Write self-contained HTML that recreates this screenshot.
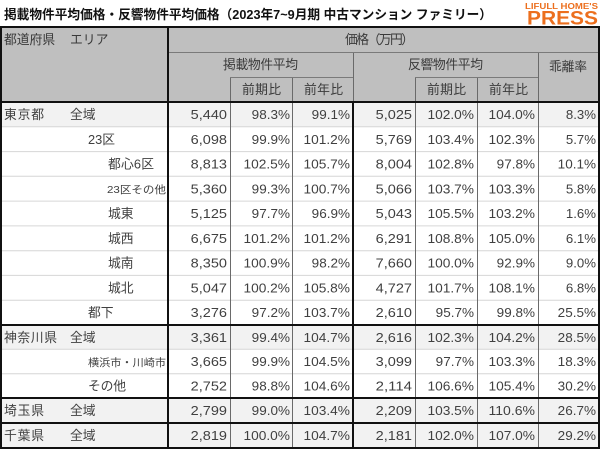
<!DOCTYPE html>
<html><head><meta charset="utf-8">
<style>
html,body{margin:0;padding:0;background:#fff;}
svg{display:block;}
text{font-family:"Liberation Sans","Noto Sans CJK JP",sans-serif;fill:#404040;}
.n{font-size:12.5px;text-anchor:end;}
.j{font-size:12.8px;}
.s{font-size:10.5px;}
.h{font-size:12.8px;fill:#3a3a3a;}
</style></head><body>
<svg width="600" height="450" viewBox="0 0 600 450" xmlns="http://www.w3.org/2000/svg">
<rect x="0" y="0" width="600" height="450" fill="#fff"/>
<!-- title -->
<text x="4" y="19" style="font-size:12.8px;font-weight:bold;fill:#111" textLength="488" lengthAdjust="spacingAndGlyphs">掲載物件平均価格・反響物件平均価格（2023年7~9月期 中古マンション ファミリー）</text>
<!-- logo -->
<text x="525" y="9" style="font-size:8px;font-weight:bold;fill:#ec6f1e" textLength="73" lengthAdjust="spacingAndGlyphs">LIFULL HOME'S</text>
<text x="527" y="24.5" style="font-size:19.5px;font-weight:bold;fill:#ec6f1e" textLength="71" lengthAdjust="spacingAndGlyphs">PRESS</text>

<!-- backgrounds -->
<rect x="1" y="27" width="598" height="75" fill="#bfbfbf"/>
<rect x="1" y="102" width="598" height="24.8" fill="#f2f2f2"/>
<rect x="1" y="325" width="598" height="24.3" fill="#f2f2f2"/>
<rect x="1" y="398" width="598" height="50" fill="#f2f2f2"/>

<!-- light row grid -->
<g stroke="#d6d6d6" stroke-width="1">
<line x1="1" x2="599" y1="126.8" y2="126.8"/>
<line x1="1" x2="599" y1="151.6" y2="151.6"/>
<line x1="1" x2="599" y1="176.3" y2="176.3"/>
<line x1="1" x2="599" y1="201.1" y2="201.1"/>
<line x1="1" x2="599" y1="225.9" y2="225.9"/>
<line x1="1" x2="599" y1="250.7" y2="250.7"/>
<line x1="1" x2="599" y1="275.4" y2="275.4"/>
<line x1="1" x2="599" y1="300.2" y2="300.2"/>
<line x1="1" x2="599" y1="349.3" y2="349.3"/>
<line x1="1" x2="599" y1="373.7" y2="373.7"/>
</g>

<!-- data verticals -->
<g stroke="#6a6a6a" stroke-width="1">
<line x1="230.5" x2="230.5" y1="77" y2="448"/>
<line x1="292.5" x2="292.5" y1="77" y2="448"/>
<line x1="415.5" x2="415.5" y1="77" y2="448"/>
<line x1="477.5" x2="477.5" y1="77" y2="448"/>
<line x1="538.5" x2="538.5" y1="52" y2="448"/>
<line x1="353.5" x2="353.5" y1="52" y2="102"/>
</g>
<!-- header lines -->
<g stroke="#7a7a7a" stroke-width="1">
<line x1="168" x2="599" y1="52.5" y2="52.5"/>
<line x1="230" x2="353" y1="77.5" y2="77.5"/>
<line x1="415" x2="538" y1="77.5" y2="77.5"/>
</g>

<!-- thick lines -->
<g stroke="#111" stroke-width="2" fill="none">
<rect x="1" y="27" width="598" height="421"/>
<line x1="0" x2="600" y1="102" y2="102"/>
<line x1="0" x2="600" y1="325" y2="325"/>
<line x1="0" x2="600" y1="398" y2="398"/>
<line x1="0" x2="600" y1="423" y2="423"/>
<line x1="168" x2="168" y1="26" y2="449"/>
<line x1="353" x2="353" y1="101" y2="449"/>
</g>

<!-- header text -->
<text class="h" x="4" y="44">都道府県</text>
<text class="h" x="70" y="44">エリア</text>
<text class="h" x="345" y="44" textLength="69">価格（万円）</text>
<text class="h" x="223" y="69" textLength="75">掲載物件平均</text>
<text class="h" x="408" y="69" textLength="75">反響物件平均</text>
<text class="h" x="549" y="71" textLength="38">乖離率</text>
<text class="h" x="242" y="94" textLength="39">前期比</text>
<text class="h" x="304" y="94" textLength="39">前年比</text>
<text class="h" x="427" y="94" textLength="39">前期比</text>
<text class="h" x="489" y="94" textLength="39">前年比</text>

<!-- labels -->
<text class="j" x="4" y="119" textLength="40">東京都</text>
<text class="j" x="70" y="119">全域</text>
<text class="j" x="88" y="143.8">23区</text>
<text class="j" x="108" y="168.6" textLength="46">都心6区</text>
<text class="s" x="107" y="193" textLength="59" lengthAdjust="spacingAndGlyphs">23区その他</text>
<text class="j" x="108" y="218.1">城東</text>
<text class="j" x="108" y="242.9">城西</text>
<text class="j" x="108" y="267.7">城南</text>
<text class="j" x="108" y="292.4">城北</text>
<text class="j" x="88" y="317.2">都下</text>
<text class="j" x="4" y="341.8" textLength="53">神奈川県</text>
<text class="j" x="70" y="341.8">全域</text>
<text class="s" x="88" y="365.8" textLength="78" lengthAdjust="spacingAndGlyphs">横浜市・川崎市</text>
<text class="j" x="88" y="390.5" textLength="38">その他</text>
<text class="j" x="4" y="415.1" textLength="40">埼玉県</text>
<text class="j" x="70" y="415.1">全域</text>
<text class="j" x="4" y="440.1" textLength="40">千葉県</text>
<text class="j" x="70" y="440.1">全域</text>

<!-- numbers -->
<g transform="translate(0,119)">
<text class="n" x="227" textLength="36.3" lengthAdjust="spacingAndGlyphs">5,440</text>
<text class="n" x="290" textLength="38.3" lengthAdjust="spacingAndGlyphs">98.3%</text>
<text class="n" x="350" textLength="38.3" lengthAdjust="spacingAndGlyphs">99.1%</text>
<text class="n" x="412" textLength="36.3" lengthAdjust="spacingAndGlyphs">5,025</text>
<text class="n" x="474" textLength="46.5" lengthAdjust="spacingAndGlyphs">102.0%</text>
<text class="n" x="535" textLength="46.5" lengthAdjust="spacingAndGlyphs">104.0%</text>
<text class="n" x="596" textLength="30.1" lengthAdjust="spacingAndGlyphs">8.3%</text>
</g>
<g transform="translate(0,143.8)">
<text class="n" x="227" textLength="36.3" lengthAdjust="spacingAndGlyphs">6,098</text>
<text class="n" x="290" textLength="38.3" lengthAdjust="spacingAndGlyphs">99.9%</text>
<text class="n" x="350" textLength="46.5" lengthAdjust="spacingAndGlyphs">101.2%</text>
<text class="n" x="412" textLength="36.3" lengthAdjust="spacingAndGlyphs">5,769</text>
<text class="n" x="474" textLength="46.5" lengthAdjust="spacingAndGlyphs">103.4%</text>
<text class="n" x="535" textLength="46.5" lengthAdjust="spacingAndGlyphs">102.3%</text>
<text class="n" x="596" textLength="30.1" lengthAdjust="spacingAndGlyphs">5.7%</text>
</g>
<g transform="translate(0,168.6)">
<text class="n" x="227" textLength="36.3" lengthAdjust="spacingAndGlyphs">8,813</text>
<text class="n" x="290" textLength="46.5" lengthAdjust="spacingAndGlyphs">102.5%</text>
<text class="n" x="350" textLength="46.5" lengthAdjust="spacingAndGlyphs">105.7%</text>
<text class="n" x="412" textLength="36.3" lengthAdjust="spacingAndGlyphs">8,004</text>
<text class="n" x="474" textLength="46.5" lengthAdjust="spacingAndGlyphs">102.8%</text>
<text class="n" x="535" textLength="38.3" lengthAdjust="spacingAndGlyphs">97.8%</text>
<text class="n" x="596" textLength="38.3" lengthAdjust="spacingAndGlyphs">10.1%</text>
</g>
<g transform="translate(0,193.3)">
<text class="n" x="227" textLength="36.3" lengthAdjust="spacingAndGlyphs">5,360</text>
<text class="n" x="290" textLength="38.3" lengthAdjust="spacingAndGlyphs">99.3%</text>
<text class="n" x="350" textLength="46.5" lengthAdjust="spacingAndGlyphs">100.7%</text>
<text class="n" x="412" textLength="36.3" lengthAdjust="spacingAndGlyphs">5,066</text>
<text class="n" x="474" textLength="46.5" lengthAdjust="spacingAndGlyphs">103.7%</text>
<text class="n" x="535" textLength="46.5" lengthAdjust="spacingAndGlyphs">103.3%</text>
<text class="n" x="596" textLength="30.1" lengthAdjust="spacingAndGlyphs">5.8%</text>
</g>
<g transform="translate(0,218.1)">
<text class="n" x="227" textLength="36.3" lengthAdjust="spacingAndGlyphs">5,125</text>
<text class="n" x="290" textLength="38.3" lengthAdjust="spacingAndGlyphs">97.7%</text>
<text class="n" x="350" textLength="38.3" lengthAdjust="spacingAndGlyphs">96.9%</text>
<text class="n" x="412" textLength="36.3" lengthAdjust="spacingAndGlyphs">5,043</text>
<text class="n" x="474" textLength="46.5" lengthAdjust="spacingAndGlyphs">105.5%</text>
<text class="n" x="535" textLength="46.5" lengthAdjust="spacingAndGlyphs">103.2%</text>
<text class="n" x="596" textLength="30.1" lengthAdjust="spacingAndGlyphs">1.6%</text>
</g>
<g transform="translate(0,242.9)">
<text class="n" x="227" textLength="36.3" lengthAdjust="spacingAndGlyphs">6,675</text>
<text class="n" x="290" textLength="46.5" lengthAdjust="spacingAndGlyphs">101.2%</text>
<text class="n" x="350" textLength="46.5" lengthAdjust="spacingAndGlyphs">101.2%</text>
<text class="n" x="412" textLength="36.3" lengthAdjust="spacingAndGlyphs">6,291</text>
<text class="n" x="474" textLength="46.5" lengthAdjust="spacingAndGlyphs">108.8%</text>
<text class="n" x="535" textLength="46.5" lengthAdjust="spacingAndGlyphs">105.0%</text>
<text class="n" x="596" textLength="30.1" lengthAdjust="spacingAndGlyphs">6.1%</text>
</g>
<g transform="translate(0,267.7)">
<text class="n" x="227" textLength="36.3" lengthAdjust="spacingAndGlyphs">8,350</text>
<text class="n" x="290" textLength="46.5" lengthAdjust="spacingAndGlyphs">100.9%</text>
<text class="n" x="350" textLength="38.3" lengthAdjust="spacingAndGlyphs">98.2%</text>
<text class="n" x="412" textLength="36.3" lengthAdjust="spacingAndGlyphs">7,660</text>
<text class="n" x="474" textLength="46.5" lengthAdjust="spacingAndGlyphs">100.0%</text>
<text class="n" x="535" textLength="38.3" lengthAdjust="spacingAndGlyphs">92.9%</text>
<text class="n" x="596" textLength="30.1" lengthAdjust="spacingAndGlyphs">9.0%</text>
</g>
<g transform="translate(0,292.4)">
<text class="n" x="227" textLength="36.3" lengthAdjust="spacingAndGlyphs">5,047</text>
<text class="n" x="290" textLength="46.5" lengthAdjust="spacingAndGlyphs">100.2%</text>
<text class="n" x="350" textLength="46.5" lengthAdjust="spacingAndGlyphs">105.8%</text>
<text class="n" x="412" textLength="36.3" lengthAdjust="spacingAndGlyphs">4,727</text>
<text class="n" x="474" textLength="46.5" lengthAdjust="spacingAndGlyphs">101.7%</text>
<text class="n" x="535" textLength="46.5" lengthAdjust="spacingAndGlyphs">108.1%</text>
<text class="n" x="596" textLength="30.1" lengthAdjust="spacingAndGlyphs">6.8%</text>
</g>
<g transform="translate(0,317.2)">
<text class="n" x="227" textLength="36.3" lengthAdjust="spacingAndGlyphs">3,276</text>
<text class="n" x="290" textLength="38.3" lengthAdjust="spacingAndGlyphs">97.2%</text>
<text class="n" x="350" textLength="46.5" lengthAdjust="spacingAndGlyphs">103.7%</text>
<text class="n" x="412" textLength="36.3" lengthAdjust="spacingAndGlyphs">2,610</text>
<text class="n" x="474" textLength="38.3" lengthAdjust="spacingAndGlyphs">95.7%</text>
<text class="n" x="535" textLength="38.3" lengthAdjust="spacingAndGlyphs">99.8%</text>
<text class="n" x="596" textLength="38.3" lengthAdjust="spacingAndGlyphs">25.5%</text>
</g>
<g transform="translate(0,341.8)">
<text class="n" x="227" textLength="36.3" lengthAdjust="spacingAndGlyphs">3,361</text>
<text class="n" x="290" textLength="38.3" lengthAdjust="spacingAndGlyphs">99.4%</text>
<text class="n" x="350" textLength="46.5" lengthAdjust="spacingAndGlyphs">104.7%</text>
<text class="n" x="412" textLength="36.3" lengthAdjust="spacingAndGlyphs">2,616</text>
<text class="n" x="474" textLength="46.5" lengthAdjust="spacingAndGlyphs">102.3%</text>
<text class="n" x="535" textLength="46.5" lengthAdjust="spacingAndGlyphs">104.2%</text>
<text class="n" x="596" textLength="38.3" lengthAdjust="spacingAndGlyphs">28.5%</text>
</g>
<g transform="translate(0,366.1)">
<text class="n" x="227" textLength="36.3" lengthAdjust="spacingAndGlyphs">3,665</text>
<text class="n" x="290" textLength="38.3" lengthAdjust="spacingAndGlyphs">99.9%</text>
<text class="n" x="350" textLength="46.5" lengthAdjust="spacingAndGlyphs">104.5%</text>
<text class="n" x="412" textLength="36.3" lengthAdjust="spacingAndGlyphs">3,099</text>
<text class="n" x="474" textLength="38.3" lengthAdjust="spacingAndGlyphs">97.7%</text>
<text class="n" x="535" textLength="46.5" lengthAdjust="spacingAndGlyphs">103.3%</text>
<text class="n" x="596" textLength="38.3" lengthAdjust="spacingAndGlyphs">18.3%</text>
</g>
<g transform="translate(0,390.5)">
<text class="n" x="227" textLength="36.3" lengthAdjust="spacingAndGlyphs">2,752</text>
<text class="n" x="290" textLength="38.3" lengthAdjust="spacingAndGlyphs">98.8%</text>
<text class="n" x="350" textLength="46.5" lengthAdjust="spacingAndGlyphs">104.6%</text>
<text class="n" x="412" textLength="36.3" lengthAdjust="spacingAndGlyphs">2,114</text>
<text class="n" x="474" textLength="46.5" lengthAdjust="spacingAndGlyphs">106.6%</text>
<text class="n" x="535" textLength="46.5" lengthAdjust="spacingAndGlyphs">105.4%</text>
<text class="n" x="596" textLength="38.3" lengthAdjust="spacingAndGlyphs">30.2%</text>
</g>
<g transform="translate(0,415.1)">
<text class="n" x="227" textLength="36.3" lengthAdjust="spacingAndGlyphs">2,799</text>
<text class="n" x="290" textLength="38.3" lengthAdjust="spacingAndGlyphs">99.0%</text>
<text class="n" x="350" textLength="46.5" lengthAdjust="spacingAndGlyphs">103.4%</text>
<text class="n" x="412" textLength="36.3" lengthAdjust="spacingAndGlyphs">2,209</text>
<text class="n" x="474" textLength="46.5" lengthAdjust="spacingAndGlyphs">103.5%</text>
<text class="n" x="535" textLength="46.5" lengthAdjust="spacingAndGlyphs">110.6%</text>
<text class="n" x="596" textLength="38.3" lengthAdjust="spacingAndGlyphs">26.7%</text>
</g>
<g transform="translate(0,440.1)">
<text class="n" x="227" textLength="36.3" lengthAdjust="spacingAndGlyphs">2,819</text>
<text class="n" x="290" textLength="46.5" lengthAdjust="spacingAndGlyphs">100.0%</text>
<text class="n" x="350" textLength="46.5" lengthAdjust="spacingAndGlyphs">104.7%</text>
<text class="n" x="412" textLength="36.3" lengthAdjust="spacingAndGlyphs">2,181</text>
<text class="n" x="474" textLength="46.5" lengthAdjust="spacingAndGlyphs">102.0%</text>
<text class="n" x="535" textLength="46.5" lengthAdjust="spacingAndGlyphs">107.0%</text>
<text class="n" x="596" textLength="38.3" lengthAdjust="spacingAndGlyphs">29.2%</text>
</g>
</svg>
</body></html>
